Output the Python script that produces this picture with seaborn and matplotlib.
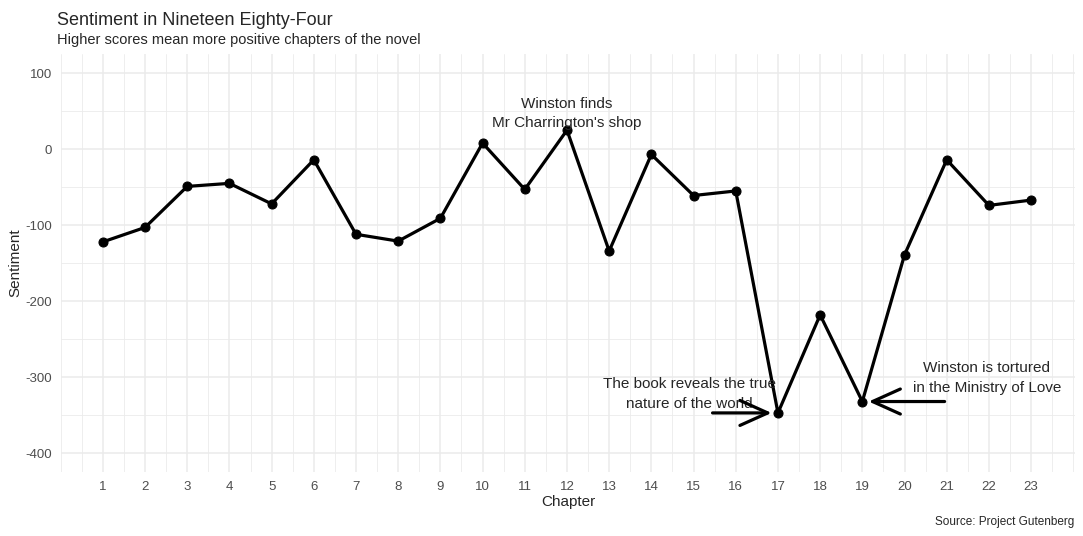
import numpy as np
import pandas as pd
import matplotlib.pyplot as plt
from matplotlib.ticker import MultipleLocator
import seaborn as sns

# chapter sentiment scores
chapters = list(range(1, 24))
sentiment = [-122, -103, -49, -45, -72, -14, -112, -121, -91, 8, -53, 25,
             -134, -7, -61, -55, -347, -218, -332, -139, -14, -74, -67]

df = pd.DataFrame({"Chapter": chapters, "Sentiment": sentiment})

sns.set_style("white")
plt.rcParams['font.family'] = ['Liberation Sans', 'DejaVu Sans']
plt.rcParams['axes.unicode_minus'] = False

fig = plt.figure(figsize=(10.83, 5.36), dpi=100)
ax = fig.add_axes([0.056, 0.119, 0.937, 0.780])

sns.lineplot(data=df, x="Chapter", y="Sentiment", color="black", linewidth=2.3,
             marker="o", markersize=6.5, markeredgecolor="black", ax=ax)

ax.set_xlim(0, 24.05)
ax.set_ylim(-425, 125)
ax.set_xticks(chapters)
ax.set_yticks([-400, -300, -200, -100, 0, 100])
ax.xaxis.set_minor_locator(MultipleLocator(0.5))
ax.yaxis.set_minor_locator(MultipleLocator(50))
ax.grid(True, which="major", color="#ebebeb", linewidth=1.1)
ax.grid(True, which="minor", color="#ebebeb", linewidth=0.6)
ax.set_axisbelow(True)
for s in ax.spines.values():
    s.set_visible(False)
ax.tick_params(which="both", length=0, labelsize=9.5, colors="#4d4d4d", pad=6)

ax.set_xlabel("Chapter", fontsize=11, labelpad=2)
ax.set_ylabel("Sentiment", fontsize=11, labelpad=2)

# annotations
ax.text(12, 47, "Winston finds\nMr Charrington's shop", ha="center", va="center",
        fontsize=11, linespacing=1.5)
ax.text(14.9, -322, "The book reveals the true\nnature of the world", ha="center",
        va="center", fontsize=11, linespacing=1.5)
ax.text(21.95, -301, "Winston is tortured\nin the Ministry of Love", ha="center",
        va="center", fontsize=11, linespacing=1.5)
head = "->,head_length=2.0,head_width=0.9"
ax.annotate("", xy=(16.85, -347), xytext=(15.45, -347),
            arrowprops=dict(arrowstyle=head, lw=2.3, color="black", shrinkA=0, shrinkB=0))
ax.annotate("", xy=(19.15, -332), xytext=(20.95, -332),
            arrowprops=dict(arrowstyle=head, lw=2.3, color="black", shrinkA=0, shrinkB=0))

fig.text(0.053, 0.962, "Sentiment in Nineteen Eighty-Four", fontsize=13, ha="left", va="center")
fig.text(0.053, 0.925, "Higher scores mean more positive chapters of the novel",
         fontsize=10.5, ha="left", va="center")
fig.text(0.992, 0.026, "Source: Project Gutenberg", fontsize=8.5, ha="right", va="center")

fig.savefig("out.png", dpi=100)
